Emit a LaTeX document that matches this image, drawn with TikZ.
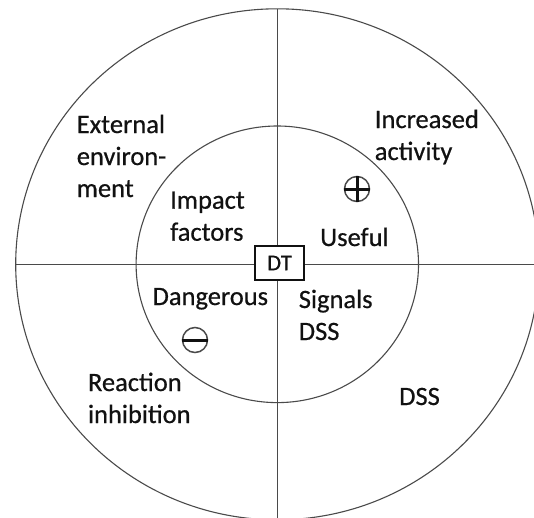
\documentclass[tikz,border=0pt]{standalone}
\usepackage{fontspec}
\setmainfont{Carlito}
\newfontfamily\labelfont{Carlito}[RawFeature={embolden=0.6}]
\definecolor{linegray}{HTML}{4A4A4A}
\definecolor{ink}{HTML}{111111}
\begin{document}
\begin{tikzpicture}[x=1pt,y=-1pt,
  ring/.style={draw=linegray, line width=1.1pt},
  axisline/.style={draw=linegray, line width=1.1pt},
  % multi-line labels are placed by the baseline of their last line
  label/.style={font=\labelfont\fontsize{26.5}{32}\selectfont, text=ink, inner sep=0pt,
                align=left, anchor=base west},
  centerbox/.style={draw=ink, line width=2pt, fill=white, inner sep=0pt,
                    minimum width=49pt, minimum height=34pt,
                    font=\labelfont\fontsize{22.5}{26}\selectfont, text=ink},
  signmark/.style={circle, draw=linegray, line width=1.5pt, fill=white,
                   minimum size=25pt, inner sep=0pt},
  signbar/.style={draw=ink, line width=3pt}]
\useasboundingbox (0,0) rectangle (534,517);
\clip (0,0) rectangle (534,517);

% rings around the centre
\coordinate (c) at (277.3,264.3);
\draw[ring] (c) ellipse [x radius=261.6, y radius=255.5];
\draw[ring] (c) ellipse [x radius=141.2, y radius=138.3];

% axes dividing the quadrants
\coordinate (west) at (15.7,264.3);
\coordinate (east) at (540,264.3);
\coordinate (north) at (277.3,9.3);
\coordinate (south) at (277.3,530);
\draw[axisline] (west) -- (east);
\draw[axisline] (north) -- (south);

% centre box
\node[centerbox] (dt) at (279.5,263) {DT};

% quadrant labels, outer ring
\node[label] (ext) at (76.6,197) {External\\environ-\\ment};
\node[label] (inc) at (374.6,160) {Increased\\activity};
\node[label] (rea) at (87.8,423) {Reaction\\inhibition};
\node[label] (dss) at (399,405) {DSS};

% quadrant labels, inner ring
\node[label] (imp) at (170,240.7) {Impact\\factors};
\node[label] (use) at (320,246) {Useful};
\node[label] (dan) at (152.4,305) {Dangerous};
\node[label] (sig) at (298.6,340) {Signals\\DSS};

% plus and minus marks
\node[signmark] (plus) at (357,189) {};
\draw[signbar] (plus.west) -- (plus.east);
\draw[signbar] (plus.north) -- (plus.south);
\node[signmark] (minus) at (195,340) {};
\draw[signbar] (minus.west) -- (minus.east);
\end{tikzpicture}
\end{document}
